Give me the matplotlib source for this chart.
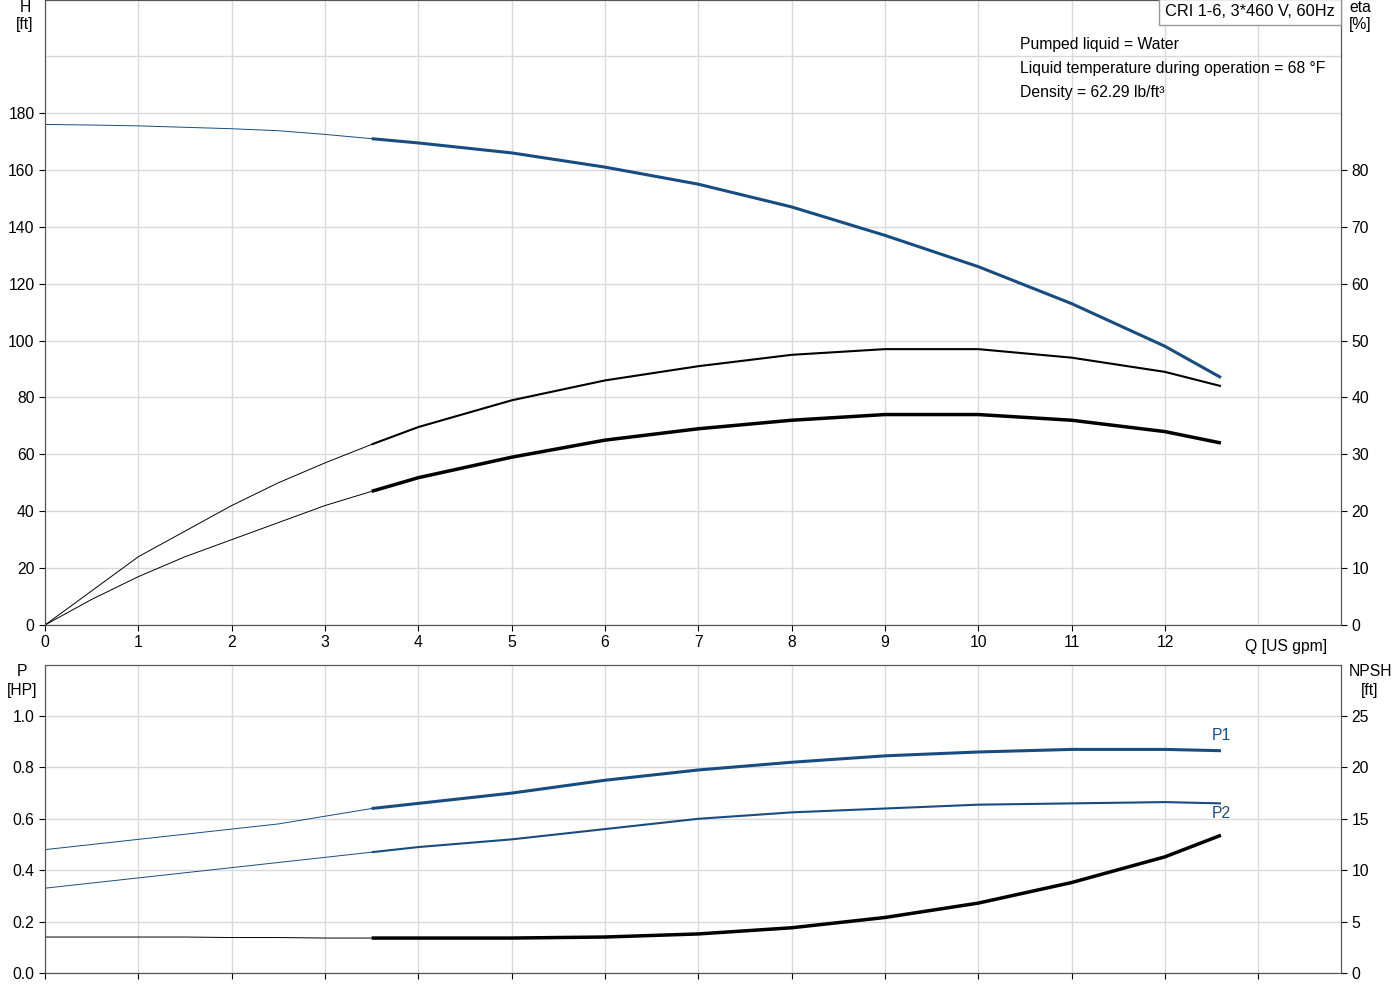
import matplotlib
matplotlib.use("Agg")
import matplotlib.pyplot as plt
import numpy as np

plt.rcParams['font.family'] = ['Liberation Sans', 'DejaVu Sans']

q = [0, 0.5, 1, 1.5, 2, 2.5, 3, 3.5, 4, 5, 6, 7, 8, 9, 10, 11, 12, 12.6]
head = [176, 175.8, 175.5, 175, 174.5, 173.8, 172.5, 171, 169.5, 166, 161, 155, 147, 137, 126, 113, 98, 87]
eta_a = [0, 6, 12, 16.5, 21, 25, 28.5, 31.75, 34.8, 39.5, 43, 45.5, 47.5, 48.5, 48.5, 47, 44.5, 42]
eta_b = [0, 4.5, 8.5, 12, 15, 18, 21, 23.5, 25.9, 29.5, 32.5, 34.5, 36, 37, 37, 36, 34, 32]
p1 = [0.48, 0.50, 0.52, 0.54, 0.56, 0.58, 0.61, 0.64, 0.66, 0.70, 0.75, 0.79, 0.82, 0.845, 0.86, 0.87, 0.87, 0.865]
p2 = [0.33, 0.35, 0.37, 0.39, 0.41, 0.43, 0.45, 0.47, 0.49, 0.52, 0.56, 0.60, 0.625, 0.64, 0.655, 0.66, 0.665, 0.66]
npsh = [3.5, 3.5, 3.5, 3.5, 3.45, 3.45, 3.4, 3.4, 3.4, 3.4, 3.5, 3.8, 4.4, 5.4, 6.8, 8.8, 11.3, 13.4]

BLUE = '#174c80'
GRID = '#d9d9d9'
fs = 11.3
k = q.index(3.5)

fig = plt.figure(figsize=(14, 10), dpi=100)
ax = fig.add_axes([45/1400, 1-625/1000, 1296/1400, 625/1000])
ax2 = ax.twinx()
bx = fig.add_axes([45/1400, 1-973/1000, 1296/1400, 308/1000])
bx2 = bx.twinx()

def seg(a, x, y, c, lw):
    a.plot(x[:k+1], y[:k+1], color=c, lw=0.7)
    a.plot(x[k:], y[k:], color=c, lw=lw, solid_capstyle='butt', solid_joinstyle='round')

xmax = 1296/93.33
ymax = 625/2.844
ax.set_xlim(0, xmax); ax.set_ylim(0, ymax)
ax2.set_ylim(0, ymax/2)
ax.set_xticks(range(0, 13))
ax.set_yticks(range(0, 200, 20))
ax2.set_yticks(range(0, 90, 10))
ax.grid(True, color=GRID, lw=1)
ax.axhline(200, color=GRID, lw=1, zorder=0)
ax.axvline(13, color=GRID, lw=1, zorder=0)
seg(ax, q, head, BLUE, 2.2)
seg(ax2, q, eta_a, 'black', 1.5)
seg(ax2, q, eta_b, 'black', 2.5)
ax.text(13.3, -5, 'Q [US gpm]', ha='center', va='top', fontsize=fs)

bx.set_xlim(0, xmax); bx.set_ylim(0, 308/257)
bx2.set_ylim(0, 25*308/257)
bx.set_xticks(range(0, 14)); bx.set_xticklabels([])
bx.set_yticks([0, 0.2, 0.4, 0.6, 0.8, 1.0]); bx.set_yticklabels(['0.0', '0.2', '0.4', '0.6', '0.8', '1.0'])
bx2.set_yticks(range(0, 30, 5))
bx.grid(True, color=GRID, lw=1)
seg(bx, q, p1, BLUE, 2.2)
seg(bx, q, p2, BLUE, 1.5)
seg(bx2, q, npsh, 'black', 2.5)
bx.text(12.6, p1[-1] + 0.03, 'P1', color=BLUE, ha='center', va='bottom', fontsize=fs)
bx.text(12.6, p2[-1] - 0.01, 'P2', color=BLUE, ha='center', va='top', fontsize=fs)

for a in (ax, ax2, bx, bx2):
    a.tick_params(labelsize=fs, length=4, color='black')
    for s in a.spines.values():
        s.set_color('#555555'); s.set_linewidth(0.8)

fig.text(25/1400, 1-8/1000, 'H', ha='center', va='center', fontsize=fs)
fig.text(25/1400, 1-25/1000, '[ft]', ha='center', va='center', fontsize=fs)
fig.text(1360/1400, 1-8/1000, 'eta', ha='center', va='center', fontsize=fs)
fig.text(1360/1400, 1-25/1000, '[%]', ha='center', va='center', fontsize=fs)
fig.text(22/1400, 1-672/1000, 'P', ha='center', va='center', fontsize=fs)
fig.text(22/1400, 1-690/1000, '[HP]', ha='center', va='center', fontsize=fs)
fig.text(1370/1400, 1-672/1000, 'NPSH', ha='center', va='center', fontsize=fs)
fig.text(1370/1400, 1-690/1000, '[ft]', ha='center', va='center', fontsize=fs)

fig.text(1250/1400, 1-12/1000, 'CRI 1-6, 3*460 V, 60Hz', ha='center', va='center', fontsize=fs + 0.5,
         bbox=dict(facecolor='white', edgecolor='#999999', boxstyle='square,pad=0.35'))
for i, t in enumerate(['Pumped liquid = Water', 'Liquid temperature during operation = 68 °F',
                       'Density = 62.29 lb/ft³']):
    fig.text(1020/1400, 1-(44 + 24*i)/1000, t, ha='left', va='center', fontsize=fs)

fig.savefig('out.png', dpi=100)
